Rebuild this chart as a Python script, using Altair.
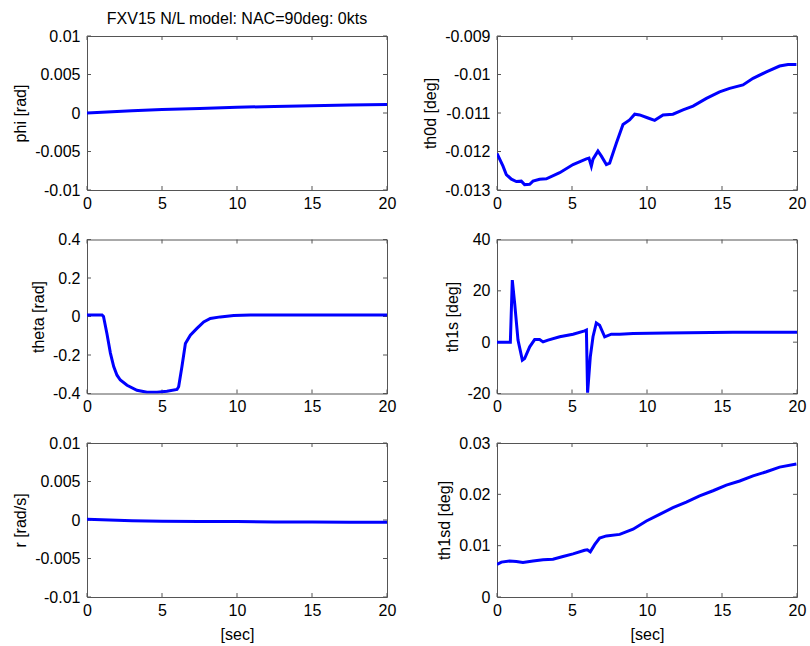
import altair as alt
import pandas as pd

# ---- time histories (seconds) ----
phi_t = [0, 1, 2, 3, 5, 7.5, 10, 12.5, 15, 17.5, 20]
phi_v = [0.0, 0.0001, 0.0002, 0.0003, 0.00045, 0.0006, 0.00075, 0.00085, 0.00095, 0.00103, 0.0011]

th0d_t = [0, 0.4, 0.62, 0.96, 1.29, 1.62, 1.84, 2.18, 2.4, 2.84, 3.29, 4.18, 5.07, 5.96,
          6.13, 6.29, 6.4, 6.73, 6.96, 7.29, 7.51, 7.96, 8.4, 8.84, 9.18, 9.51, 10.07,
          10.51, 11.07, 11.73, 12.4, 13.07, 13.96, 14.84, 15.51, 16.4, 17.07, 17.96,
          18.84, 19.4, 19.96]
th0d_v = [-0.01205, -0.01238, -0.0126, -0.01272, -0.01278, -0.01277, -0.01286, -0.01285,
          -0.01277, -0.01272, -0.01271, -0.01255, -0.01234, -0.01219, -0.01217, -0.01238,
          -0.0122, -0.01199, -0.01212, -0.01234, -0.0123, -0.01178, -0.0113, -0.01118,
          -0.01103, -0.01105, -0.01113, -0.01119, -0.01105, -0.01103, -0.01092, -0.01082,
          -0.01062, -0.01045, -0.01036, -0.01027, -0.0101, -0.00993, -0.00978, -0.00974,
          -0.00974]

theta_t = [0, 1.0, 1.1, 1.33, 1.56, 1.78, 2.0, 2.22, 2.67, 3.33, 4.0, 4.67, 5.33, 6.0,
           6.11, 6.33, 6.56, 6.89, 7.33, 7.78, 8.22, 8.89, 9.78, 10.89, 20]
theta_v = [0.008, 0.008, 0.0, -0.09, -0.19, -0.26, -0.305, -0.33, -0.357, -0.383, -0.393,
           -0.393, -0.388, -0.379, -0.365, -0.26, -0.14, -0.097, -0.062, -0.028, -0.01,
           -0.002, 0.005, 0.008, 0.008]

th1s_t = [0, 0.89, 1.02, 1.18, 1.4, 1.69, 1.84, 2.18, 2.51, 2.84, 3.07, 3.4, 4.18, 5.07,
          5.84, 5.96, 6.04, 6.22, 6.4, 6.62, 6.84, 7.18, 7.62, 8.18, 9.07, 11.29, 15.73, 20]
th1s_v = [0, 0, 24.2, 15, 0.8, -7.0, -6.4, -1.8, 1.0, 1.0, 0.1, 0.8, 2.1, 3.1, 4.4, 4.7,
          -19.7, -5.7, 2.1, 7.5, 6.6, 2.1, 3.1, 3.1, 3.4, 3.6, 3.9, 3.9]

r_t = [0, 1.5, 3, 5, 7.5, 10, 12.5, 15, 17.5, 20]
r_v = [0.0001, 0.0, -0.0001, -0.00015, -0.0002, -0.0002, -0.00025, -0.00025, -0.0003, -0.0003]

th1sd_t = [0, 0.29, 0.84, 1.29, 1.73, 2.4, 3.07, 3.73, 4.4, 5.07, 5.84, 6.02, 6.22, 6.51,
           6.84, 7.29, 8.18, 9.07, 9.96, 10.84, 11.73, 12.62, 13.51, 14.4, 15.29, 16.18,
           17.07, 17.96, 18.84, 19.96]
th1sd_v = [0.00633, 0.0068, 0.0070, 0.0069, 0.00672, 0.0070, 0.00724, 0.00737, 0.0079,
           0.0084, 0.0091, 0.0092, 0.0088, 0.0102, 0.01148, 0.0119, 0.0122, 0.0132, 0.0148,
           0.0161, 0.0174, 0.0185, 0.0197, 0.0207, 0.0218, 0.0226, 0.0236, 0.0244, 0.0253,
           0.0259]

# ---- axis ticks ----
x_ticks = [0, 5, 10, 15, 20]
phi_ticks = [-0.01, -0.005, 0, 0.005, 0.01]
th0d_ticks = [-0.013, -0.012, -0.011, -0.01, -0.009]
theta_ticks = [-0.4, -0.2, 0, 0.2, 0.4]
th1s_ticks = [-20, 0, 20, 40]
r_ticks = [-0.01, -0.005, 0, 0.005, 0.01]
th1sd_ticks = [0, 0.01, 0.02, 0.03]

TITLE = "FXV15 N/L model: NAC=90deg: 0kts"

W, H = 300, 154
FONT = "Liberation Sans"
FS = 16
LINE_BLUE = "#0000ff"
FRAME = "#555555"
TICK_LEN = 4


def panel(t, v, ytitle, yticks, title=None, xtitle=None):
    ydom = [min(yticks), max(yticks)]
    xaxis = alt.Axis(values=x_ticks, title=xtitle, domain=False, ticks=False, grid=False,
                     labelFlush=False, labelOverlap=False, labelPadding=5,
                     labelFont=FONT, labelFontSize=FS, labelColor="black",
                     titleFont=FONT, titleFontSize=FS, titleFontWeight="normal",
                     titleColor="black", titlePadding=8)
    yaxis = alt.Axis(values=yticks, title=ytitle, domain=False, ticks=False, grid=False,
                     labelFlush=False, labelOverlap=False, labelPadding=7,
                     labelExpr="toString(datum.value)",
                     labelFont=FONT, labelFontSize=FS, labelColor="black",
                     titleFont=FONT, titleFontSize=FS, titleFontWeight="normal",
                     titleColor="black", titlePadding=6)
    xs = alt.Scale(domain=[0, 20], nice=False, zero=False)
    ys = alt.Scale(domain=ydom, nice=False, zero=False)

    df = pd.DataFrame({"t": t, "v": v})
    xt = pd.DataFrame({"t": x_ticks})
    yt = pd.DataFrame({"v": yticks})

    line = alt.Chart(df).mark_line(color=LINE_BLUE, strokeWidth=3, clip=True).encode(
        x=alt.X("t:Q", scale=xs, axis=xaxis),
        y=alt.Y("v:Q", scale=ys, axis=yaxis),
    )
    xb = alt.Chart(xt).mark_rule(color=FRAME, strokeWidth=1).encode(
        x=alt.X("t:Q", scale=xs, axis=xaxis), y=alt.value(H), y2=alt.value(H - TICK_LEN))
    xtop = alt.Chart(xt).mark_rule(color=FRAME, strokeWidth=1).encode(
        x=alt.X("t:Q", scale=xs, axis=xaxis), y=alt.value(0), y2=alt.value(TICK_LEN))
    yl = alt.Chart(yt).mark_rule(color=FRAME, strokeWidth=1).encode(
        y=alt.Y("v:Q", scale=ys, axis=yaxis), x=alt.value(0), x2=alt.value(TICK_LEN))
    yr = alt.Chart(yt).mark_rule(color=FRAME, strokeWidth=1).encode(
        y=alt.Y("v:Q", scale=ys, axis=yaxis), x=alt.value(W), x2=alt.value(W - TICK_LEN))

    props = dict(width=W, height=H)
    if title:
        props["title"] = alt.TitleParams(title, font=FONT, fontSize=FS, fontWeight="normal",
                                         color="black", anchor="middle", offset=1)
    return alt.layer(xb, xtop, yl, yr, line).properties(**props)


chart = alt.concat(
    panel(phi_t, phi_v, "phi [rad]", phi_ticks, title=TITLE),
    panel(th0d_t, th0d_v, "th0d [deg]", th0d_ticks),
    panel(theta_t, theta_v, "theta [rad]", theta_ticks),
    panel(th1s_t, th1s_v, "th1s [deg]", th1s_ticks),
    panel(r_t, r_v, "r [rad/s]", r_ticks, xtitle="[sec]"),
    panel(th1sd_t, th1sd_v, "th1sd [deg]", th1sd_ticks, xtitle="[sec]"),
    columns=2,
    spacing=alt.RowColnumber(row=49.5, column=110),
    bounds="flush",
).properties(
    # fixed origin of the top-left plot area; the remaining padding fills the page
    autosize=alt.AutoSizeParams(type="none"),
    padding={"left": 87, "top": 36, "right": 723, "bottom": 610},
    background="white",
).configure_view(
    stroke=FRAME, strokeWidth=1
)

chart.save("out.html", embed_options={"renderer": "svg", "actions": False})
